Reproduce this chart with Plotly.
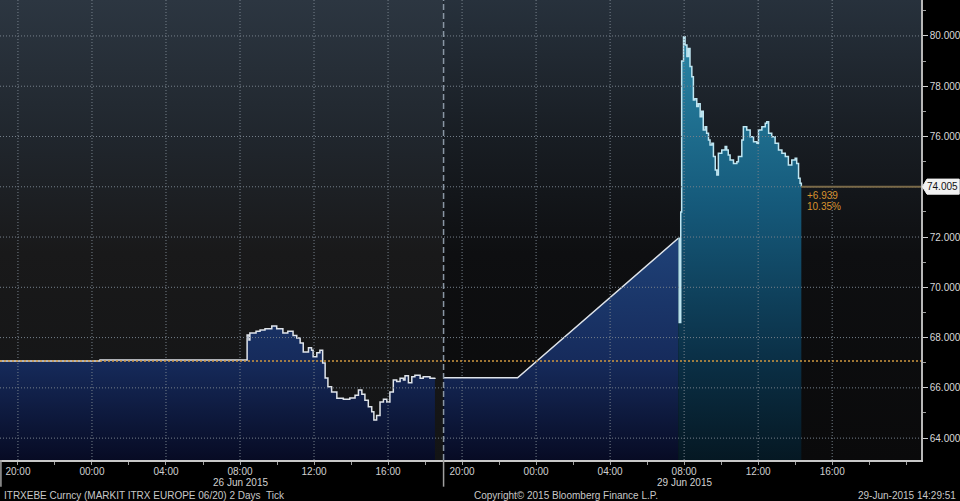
import pandas as pd
import plotly.graph_objects as go

# ---------------- data ----------------
left_times = ["2015-06-25 19:00", "2015-06-26 00:20", "2015-06-26 00:26", "2015-06-26 08:22",
              "2015-06-26 08:23", "2015-06-26 08:29", "2015-06-26 08:32", "2015-06-26 08:52",
              "2015-06-26 09:05", "2015-06-26 09:21", "2015-06-26 09:43", "2015-06-26 09:59",
              "2015-06-26 10:19", "2015-06-26 10:35", "2015-06-26 10:52", "2015-06-26 11:04",
              "2015-06-26 11:15", "2015-06-26 11:25", "2015-06-26 11:42", "2015-06-26 11:52",
              "2015-06-26 11:57", "2015-06-26 12:09", "2015-06-26 12:19", "2015-06-26 12:28",
              "2015-06-26 12:36", "2015-06-26 12:45", "2015-06-26 12:57", "2015-06-26 13:14",
              "2015-06-26 13:35", "2015-06-26 13:56", "2015-06-26 14:13", "2015-06-26 14:24",
              "2015-06-26 14:35", "2015-06-26 14:45", "2015-06-26 14:56", "2015-06-26 15:07",
              "2015-06-26 15:14", "2015-06-26 15:23", "2015-06-26 15:34", "2015-06-26 15:45",
              "2015-06-26 15:56", "2015-06-26 16:06", "2015-06-26 16:17", "2015-06-26 16:28",
              "2015-06-26 16:39", "2015-06-26 16:50", "2015-06-26 16:55", "2015-06-26 17:06",
              "2015-06-26 17:17", "2015-06-26 17:27", "2015-06-26 17:44", "2015-06-26 17:54",
              "2015-06-26 18:16", "2015-06-26 18:32"]
left_values = [67.07, 67.07, 67.11, 67.11,
               68.10, 67.90, 68.18, 68.25,
               68.30, 68.35, 68.46, 68.35,
               68.18, 68.25, 68.08, 67.98,
               67.78, 67.43, 67.60, 67.50,
               67.24, 67.40, 67.50, 66.99,
               66.39, 66.04, 65.84, 65.59,
               65.55, 65.60, 65.71, 65.91,
               65.75, 65.51, 65.25, 65.05,
               64.72, 64.90, 65.44, 65.55,
               65.44, 65.84, 66.31, 66.25,
               66.38, 66.31, 66.48, 66.20,
               66.44, 66.50, 66.38, 66.44,
               66.38, 66.40]

pre_times = ["2015-06-28 19:00", "2015-06-28 23:00", "2015-06-29 07:41"]
pre_values = [66.40, 66.40, 71.95]

session_times = ["2015-06-29 07:41", "2015-06-29 07:44", "2015-06-29 07:49", "2015-06-29 07:52",
                 "2015-06-29 07:58", "2015-06-29 08:03", "2015-06-29 08:09", "2015-06-29 08:14",
                 "2015-06-29 08:19", "2015-06-29 08:25", "2015-06-29 08:30", "2015-06-29 08:35",
                 "2015-06-29 08:41", "2015-06-29 08:46", "2015-06-29 08:52", "2015-06-29 08:57",
                 "2015-06-29 09:02", "2015-06-29 09:08", "2015-06-29 09:13", "2015-06-29 09:19",
                 "2015-06-29 09:24", "2015-06-29 09:30", "2015-06-29 09:35", "2015-06-29 09:41",
                 "2015-06-29 09:46", "2015-06-29 09:51", "2015-06-29 10:02", "2015-06-29 10:13",
                 "2015-06-29 10:18", "2015-06-29 10:23", "2015-06-29 10:29", "2015-06-29 10:40",
                 "2015-06-29 10:51", "2015-06-29 10:56", "2015-06-29 11:07", "2015-06-29 11:12",
                 "2015-06-29 11:23", "2015-06-29 11:34", "2015-06-29 11:45", "2015-06-29 11:56",
                 "2015-06-29 12:01", "2015-06-29 12:12", "2015-06-29 12:23", "2015-06-29 12:28",
                 "2015-06-29 12:34", "2015-06-29 12:44", "2015-06-29 12:55", "2015-06-29 13:06",
                 "2015-06-29 13:17", "2015-06-29 13:28", "2015-06-29 13:38", "2015-06-29 13:49",
                 "2015-06-29 14:00", "2015-06-29 14:05", "2015-06-29 14:11", "2015-06-29 14:16",
                 "2015-06-29 14:20"]
session_values = [71.95, 68.60, 73.00, 79.00,
                  79.97, 79.64, 79.18, 79.50,
                  78.78, 78.38, 77.45, 77.50,
                  77.19, 77.30, 76.79, 77.00,
                  76.26, 76.39, 76.13, 75.86,
                  75.66, 75.73, 75.20, 74.67,
                  74.47, 75.33, 75.46, 75.60,
                  75.46, 75.26, 75.06, 74.93,
                  75.00, 75.20, 75.86, 76.39,
                  76.26, 75.99, 75.79, 75.73,
                  76.26, 76.39, 76.53, 76.59,
                  76.13, 75.99, 75.73, 75.46,
                  75.33, 75.20, 74.87, 75.06,
                  75.13, 74.93, 74.34, 74.14,
                  74.005]

prev_close = 67.066
last_value = 74.005
change_text = "+6.939"
change_pct_text = "10.35%"

tick_times = ["2015-06-25 20:00", "2015-06-26 00:00", "2015-06-26 04:00", "2015-06-26 08:00",
              "2015-06-26 12:00", "2015-06-26 16:00", "2015-06-28 20:00", "2015-06-29 00:00",
              "2015-06-29 04:00", "2015-06-29 08:00", "2015-06-29 12:00", "2015-06-29 16:00"]
y_ticks = [64, 66, 68, 70, 72, 74, 76, 78, 80]
date_labels = [("2015-06-26 08:00", "26 Jun 2015"), ("2015-06-29 08:00", "29 Jun 2015")]
session_break = "2015-06-28 19:00"
footer_left = "ITRXEBE Curncy (MARKIT ITRX EUROPE 06/20) 2 Days  Tick"
footer_mid = "Copyright\u00a9 2015 Bloomberg Finance L.P."
footer_right = "29-Jun-2015 14:29:51"

# ---------------- compressed time scale (weekend removed) ----------------
ORIGIN = pd.Timestamp("2015-06-26 00:00")
GAP_START = pd.Timestamp("2015-06-26 19:00")
GAP_END = pd.Timestamp(session_break)
GAP_H = (GAP_END - GAP_START).total_seconds() / 3600


def to_x(ts):
    t = pd.Timestamp(ts)
    h = (t - ORIGIN).total_seconds() / 3600
    if t >= GAP_END:
        h -= GAP_H
    return h


lx = [to_x(t) for t in left_times]
px_ = [to_x(t) for t in pre_times]
sx = [to_x(t) for t in session_times]
tickx = [to_x(t) for t in tick_times]
tick_text = [pd.Timestamp(t).strftime("%H:%M") for t in tick_times]
brk = to_x(session_break)

X0, X1 = -4.97, 44.8
Y0, Y1 = 63.13, 81.43

FONT = "Liberation Sans"
GRID = "#76808b"
fig = go.Figure()

# background gradients (two panels)
fig.add_trace(go.Scatter(x=[X0, brk, brk, X0, X0], y=[Y0, Y0, Y1, Y1, Y0], mode="none",
                         fill="toself", hoverinfo="skip", showlegend=False,
                         fillgradient=dict(type="vertical", start=Y0, stop=Y1,
                                           colorscale=[[0, "#131415"], [0.45, "#19191a"],
                                                       [0.7, "#20262d"], [1, "#2c3641"]])))
fig.add_trace(go.Scatter(x=[brk, X1, X1, brk, brk], y=[Y0, Y0, Y1, Y1, Y0], mode="none",
                         fill="toself", hoverinfo="skip", showlegend=False,
                         fillgradient=dict(type="vertical", start=Y0, stop=Y1,
                                           colorscale=[[0, "#0a0a0b"], [0.45, "#0e0f11"],
                                                       [0.7, "#181d23"], [1, "#27313c"]])))

navy = dict(type="vertical", start=Y0, stop=72,
            colorscale=[[0, "#070b24"], [0.45, "#162b5c"], [1, "#1f4278"]])
teal = dict(type="vertical", start=Y0, stop=80,
            colorscale=[[0, "#051823"], [0.25, "#0b3148"], [0.6, "#15597a"], [1, "#2a86a6"]])

fig.add_trace(go.Scatter(x=lx, y=left_values, mode="lines", line=dict(color="#dfe4ea", width=1.5, shape="hv"),
                         fill="tozeroy", fillgradient=navy, hoverinfo="skip", showlegend=False))
fig.add_trace(go.Scatter(x=px_, y=pre_values, mode="lines", line=dict(color="#dfe4ea", width=1.5),
                         fill="tozeroy", fillgradient=navy, hoverinfo="skip", showlegend=False))
fig.add_trace(go.Scatter(x=sx, y=session_values, mode="lines", line=dict(color="#bfe6f2", width=1.5, shape="hv"),
                         fill="tozeroy", fillgradient=teal, hoverinfo="skip", showlegend=False))

shapes = []
# dotted gridlines drawn above the filled areas
for v in y_ticks:
    shapes.append(dict(type="line", xref="x", yref="y", x0=X0, x1=X1, y0=v, y1=v,
                       line=dict(color=GRID, width=1, dash="1px,2px"), layer="above"))
for xv in tickx:
    shapes.append(dict(type="line", xref="x", yref="y", x0=xv, x1=xv, y0=Y0, y1=Y1,
                       line=dict(color=GRID, width=1, dash="1px,2px"), layer="above"))

shapes += [
    # previous close dotted line
    dict(type="line", xref="x", yref="y", x0=X0, x1=X1, y0=prev_close, y1=prev_close,
         line=dict(color="#d09840", width=1.5, dash="2px,2px"), layer="above"),
    # last value line
    dict(type="line", xref="x", yref="y", x0=sx[-1], x1=X1, y0=last_value, y1=last_value,
         line=dict(color="#7a6a48", width=2), layer="above"),
    # session break separator
    dict(type="line", xref="x", yref="paper", x0=brk, x1=brk, y0=0, y1=1,
         line=dict(color="#8a96a4", width=1.5, dash="6px,3px"), layer="above"),
    dict(type="line", xref="x", yref="paper", x0=brk, x1=brk, y0=-0.058, y1=0,
         line=dict(color="#a0a0a0", width=1.5), layer="above"),
    dict(type="line", xref="paper", yref="paper", x0=0.001, x1=0.001, y0=-0.058, y1=0,
         line=dict(color="#a0a0a0", width=1.5), layer="above"),
    # tag for last value
    dict(type="path", xref="paper", yref="y",
         path=f"M 1.0015,{last_value} L 1.0065,{last_value + 0.3} L 1.0415,{last_value + 0.3} "
              f"L 1.0415,{last_value - 0.3} L 1.0065,{last_value - 0.3} Z",
         fillcolor="#f2f2f2", line=dict(color="#f2f2f2", width=1), layer="above"),
]

annotations = [
    dict(xref="paper", yref="y", x=1.0238, y=last_value, text=f"{last_value:.3f}", showarrow=False,
         xanchor="center", yanchor="middle", font=dict(family=FONT, size=10, color="#111111")),
    dict(xref="x", yref="y", x=sx[-1], y=last_value, yshift=-9, xshift=4, text=change_text, showarrow=False,
         xanchor="left", yanchor="middle", font=dict(family=FONT, size=10, color="#d8922e")),
    dict(xref="x", yref="y", x=sx[-1], y=last_value, yshift=-20, xshift=4, text=change_pct_text, showarrow=False,
         xanchor="left", yanchor="middle", font=dict(family=FONT, size=10, color="#d8922e")),
    dict(xref="paper", yref="paper", x=0.002, y=-0.077, text=footer_left, showarrow=False,
         xanchor="left", yanchor="middle", font=dict(family=FONT, size=10, color="#c8c8c8")),
    dict(xref="paper", yref="paper", x=0.5125, y=-0.077, text=footer_mid, showarrow=False,
         xanchor="left", yanchor="middle", font=dict(family=FONT, size=10, color="#c8c8c8")),
    dict(xref="paper", yref="paper", x=1.040, y=-0.077, text=footer_right, showarrow=False,
         xanchor="right", yanchor="middle", font=dict(family=FONT, size=10, color="#c8c8c8")),
]
for t, label in date_labels:
    annotations.append(dict(xref="x", yref="paper", x=to_x(t), y=-0.0495, text=label, showarrow=False,
                            xanchor="center", yanchor="middle",
                            font=dict(family=FONT, size=10, color="#d0d0d0")))

y_tick_text = ["" if v == round(last_value) else f"{v:.3f}" for v in y_ticks]

fig.update_layout(
    width=960, height=501,
    margin=dict(l=0, r=39, t=0, b=41, autoexpand=False),
    paper_bgcolor="#000000", plot_bgcolor="#000000",
    font=dict(family=FONT, size=10, color="#d0d0d0"),
    shapes=shapes, annotations=annotations, showlegend=False,
    xaxis=dict(range=[X0, X1], tickmode="array", tickvals=tickx, ticktext=tick_text,
               showgrid=False, automargin=False, ticklabelstandoff=-2,
               zeroline=False, showline=True, linecolor="#c8c8c8", linewidth=1.5,
               ticks="outside", ticklen=3, tickcolor="#a0a0a0",
               minor=dict(dtick=2, tick0=0, ticks="outside", ticklen=3, tickcolor="#a0a0a0", showgrid=False),
               tickfont=dict(family=FONT, size=10, color="#d0d0d0"), layer="above traces"),
    yaxis=dict(range=[Y0, Y1], side="right", tickmode="array", tickvals=y_ticks, ticktext=y_tick_text,
               showgrid=False, automargin=False,
               zeroline=False, showline=True, linecolor="#b8b8b8", linewidth=1.5,
               ticks="outside", ticklen=5, tickcolor="#d0d0d0",
               minor=dict(dtick=1, tick0=0, ticks="outside", ticklen=3, tickcolor="#a0a0a0", showgrid=False),
               tickfont=dict(family=FONT, size=10, color="#d8d8d8"), layer="above traces"),
)

fig.write_html("out.html", config={"displayModeBar": False},
               post_script="document.body.style.margin='0';document.body.style.overflow='hidden';"
                           "document.body.style.background='#000';")
